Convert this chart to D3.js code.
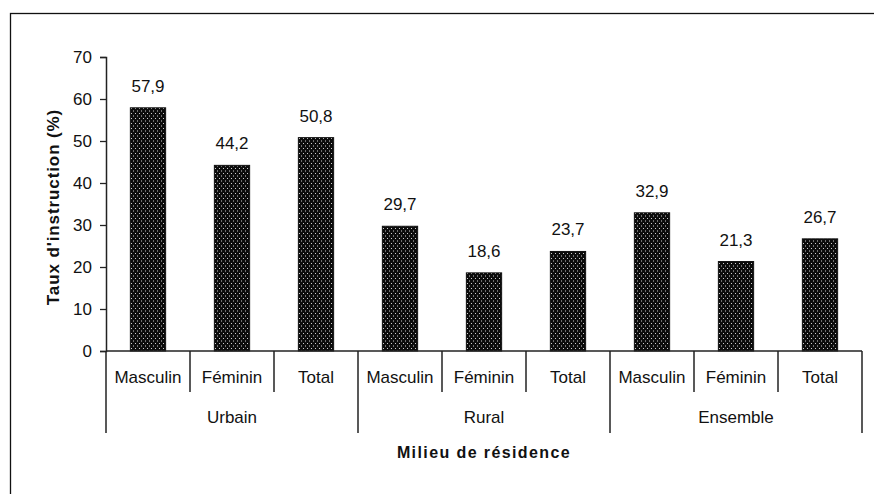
<!DOCTYPE html>
<html>
<head>
<meta charset="utf-8">
<script src="https://cdn.jsdelivr.net/npm/d3@7"></script>
<style>
  body { margin: 0; background: #fff; }
  text { font-family: "Liberation Sans", Arial, sans-serif; fill: #111; }
</style>
</head>
<body>
<div id="wrapper"></div>
<script>
// data
const groups = ["Urbain", "Rural", "Ensemble"]
const sexes = ["Masculin", "Féminin", "Total"]
const values = [57.9, 44.2, 50.8, 29.7, 18.6, 23.7, 32.9, 21.3, 26.7]
const yTicks = [0, 10, 20, 30, 40, 50, 60, 70]

function drawChart() {
    const dimensions = {
        width: 874,
        height: 494,
        margin: { top: 57, right: 12, bottom: 143, left: 106 },
    }
    dimensions.boundedWidth = dimensions.width - dimensions.margin.left - dimensions.margin.right
    dimensions.boundedHeight = dimensions.height - dimensions.margin.top - dimensions.margin.bottom

    const svg = d3.select("#wrapper")
        .append("svg")
        .attr("width", dimensions.width)
        .attr("height", dimensions.height)

    // outer frame (right and bottom edges fall outside the picture)
    svg.append("rect")
        .attr("x", 10.5).attr("y", 13.5)
        .attr("width", 880).attr("height", 500)
        .attr("fill", "none")
        .attr("stroke", "#111")
        .attr("stroke-width", 1.3)

    // dotted fill
    const pattern = svg.append("defs").append("pattern")
        .attr("id", "dots")
        .attr("patternUnits", "userSpaceOnUse")
        .attr("width", 4).attr("height", 5)
    pattern.append("rect").attr("width", 4).attr("height", 5).attr("fill", "#0c0c0c")
    pattern.append("rect").attr("x", 1).attr("y", 1).attr("width", 1).attr("height", 1).attr("fill", "#cfcfcf")
    pattern.append("rect").attr("x", 3).attr("y", 3.5).attr("width", 1).attr("height", 1).attr("fill", "#cfcfcf")

    const bounds = svg.append("g")
        .attr("transform", `translate(${dimensions.margin.left}, ${dimensions.margin.top})`)

    const keys = d3.range(values.length)
    const xScale = d3.scaleBand()
        .domain(keys)
        .range([0, dimensions.boundedWidth])
        .paddingInner(0.58)
        .paddingOuter(0.29)

    const yScale = d3.scaleLinear()
        .domain([0, 70])
        .range([dimensions.boundedHeight, 0])

    // bars
    bounds.selectAll(".bar")
        .data(values)
        .join("rect")
        .attr("class", "bar")
        .attr("x", (d, i) => xScale(i))
        .attr("y", d => yScale(d))
        .attr("width", xScale.bandwidth())
        .attr("height", d => yScale(0) - yScale(d))
        .attr("fill", "url(#dots)")
        .attr("stroke", "#111")
        .attr("stroke-width", 1)

    // value labels
    bounds.selectAll(".value")
        .data(values)
        .join("text")
        .attr("class", "value")
        .attr("x", (d, i) => xScale(i) + xScale.bandwidth() / 2)
        .attr("y", d => yScale(d) - 16)
        .attr("text-anchor", "middle")
        .style("font-size", "17px")
        .text(d => d3.format(".1f")(d).replace(".", ","))

    // y axis
    bounds.append("g")
        .call(d3.axisLeft(yScale).tickValues(yTicks).tickSize(6).tickPadding(8).tickFormat(d3.format("d")))
        .call(g => g.selectAll(".domain").attr("stroke", "#222").attr("stroke-width", 1.5))
        .call(g => g.selectAll(".tick line").attr("stroke", "#222").attr("stroke-width", 1.3))
        .call(g => g.selectAll(".tick text").style("font-size", "17px").attr("fill", "#111")
            .style("font-family", "'Liberation Sans', Arial, sans-serif"))

    // x axis line
    const step = dimensions.boundedWidth / values.length
    bounds.append("line")
        .attr("x1", 0).attr("x2", dimensions.boundedWidth)
        .attr("y1", yScale(0)).attr("y2", yScale(0))
        .attr("stroke", "#222").attr("stroke-width", 1.5)

    // separators: short ones between categories, long ones between groups
    const seps = d3.range(values.length + 1)
    bounds.selectAll(".sep")
        .data(seps)
        .join("line")
        .attr("class", "sep")
        .attr("x1", d => d * step).attr("x2", d => d * step)
        .attr("y1", yScale(0))
        .attr("y2", d => d % 3 === 0 ? yScale(0) + 82 : yScale(0) + 41)
        .attr("stroke", "#222").attr("stroke-width", 1.5)

    // category labels
    bounds.selectAll(".cat")
        .data(values)
        .join("text")
        .attr("class", "cat")
        .attr("x", (d, i) => (i + 0.5) * step)
        .attr("y", yScale(0) + 32)
        .attr("text-anchor", "middle")
        .style("font-size", "17px")
        .text((d, i) => sexes[i % 3])

    // group labels
    bounds.selectAll(".grp")
        .data(groups)
        .join("text")
        .attr("class", "grp")
        .attr("x", (d, i) => (i * 3 + 1.5) * step)
        .attr("y", yScale(0) + 72)
        .attr("text-anchor", "middle")
        .style("font-size", "17px")
        .text(d => d)

    // axis titles
    svg.append("text")
        .attr("x", 484)
        .attr("y", 458)
        .attr("text-anchor", "middle")
        .style("font-size", "16px")
        .style("font-weight", "bold")
        .style("letter-spacing", "1.4px")
        .text("Milieu de résidence")

    svg.append("text")
        .attr("transform", `translate(59, 207) rotate(-90)`)
        .attr("text-anchor", "middle")
        .style("font-size", "17px")
        .style("font-weight", "bold")
        .style("letter-spacing", "0.9px")
        .text("Taux d'instruction (%)")
}

drawChart()
</script>
</body>
</html>
